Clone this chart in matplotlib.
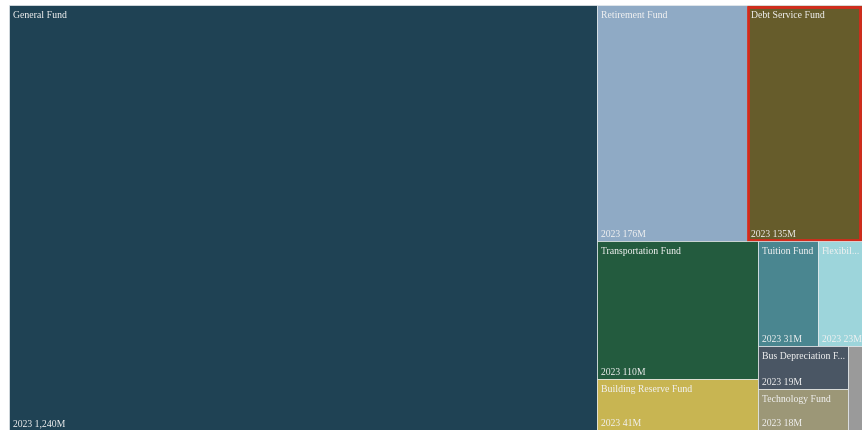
import matplotlib
matplotlib.use("Agg")
import matplotlib.pyplot as plt
from matplotlib.patches import Rectangle

# fund balances, 2023 (millions)
funds = ["General Fund", "Retirement Fund", "Debt Service Fund", "Transportation Fund",
         "Building Reserve Fund", "Tuition Fund", "Flexibil...", "Bus Depreciation F...",
         "Technology Fund", "Other"]
values = [1240, 176, 135, 110, 41, 31, 23, 19, 18, 6]
value_labels = ["1,240M", "176M", "135M", "110M", "41M", "31M", "23M", "19M", "18M", ""]
colors = ["#1f4254", "#8faac5", "#665c2b", "#235b3e", "#c8b552", "#4a8690",
          "#9dd5db", "#4a5664", "#9c9777", "#9a9a9a"]
year = "2023"
selected = "Debt Service Fund"

W, H = 853, 425


def squarify(vals, x0, y0, x1, y1, ratio=1.618):
    # d3-style squarified layout (golden ratio)
    rects = []
    total = float(sum(vals))
    i0, n = 0, len(vals)
    while i0 < n:
        dx, dy = x1 - x0, y1 - y0
        s = vals[i0]
        i1 = i0 + 1
        mn = mx = s
        alpha = max(dy / dx, dx / dy) / (total * ratio)
        beta = s * s * alpha
        min_ratio = max(mx / beta, beta / mn)
        while i1 < n:
            v = vals[i1]
            s2 = s + v
            mn2, mx2 = min(mn, v), max(mx, v)
            beta = s2 * s2 * alpha
            nr = max(mx2 / beta, beta / mn2)
            if nr > min_ratio:
                break
            s, mn, mx, min_ratio = s2, mn2, mx2, nr
            i1 += 1
        row = vals[i0:i1]
        if dx < dy:
            h = dy * s / total
            x = x0
            for v in row:
                w = dx * v / s
                rects.append((x, y0, w, h))
                x += w
            y0 += h
        else:
            w = dx * s / total
            y = y0
            for v in row:
                h = dy * v / s
                rects.append((x0, y, w, h))
                y += h
            x0 += w
        total -= s
        i0 = i1
    return rects


fig = plt.figure(figsize=(8.64, 4.31), dpi=100)
ax = fig.add_axes([9 / 864, 0, W / 864, H / 431])
ax.set_xlim(0, W)
ax.set_ylim(H, 0)
ax.axis("off")

rects = squarify(values, 0, 0, W, H)
for (x, y, w, h), name, lab, c in zip(rects, funds, value_labels, colors):
    r = Rectangle((x, y), w, h, facecolor=c, edgecolor="#e8ecef", linewidth=0.5)
    ax.add_patch(r)
    if name == selected:
        ax.add_patch(Rectangle((x + 1.5, y + 1.5), w - 3, h - 3, facecolor="none",
                               edgecolor="#d42a1c", linewidth=2))
    if w < 25:
        continue
    t1 = ax.text(x + 4, y + 5, name, ha="left", va="top", color="#f2f2f2",
                 fontsize=7, family="Liberation Serif")
    t2 = ax.text(x + 4, y + h - 3, year + " " + lab, ha="left", va="bottom",
                 color="#f2f2f2", fontsize=7, family="Liberation Serif")
    t1.set_clip_path(r)
    t2.set_clip_path(r)

fig.savefig("out.png", dpi=100)
